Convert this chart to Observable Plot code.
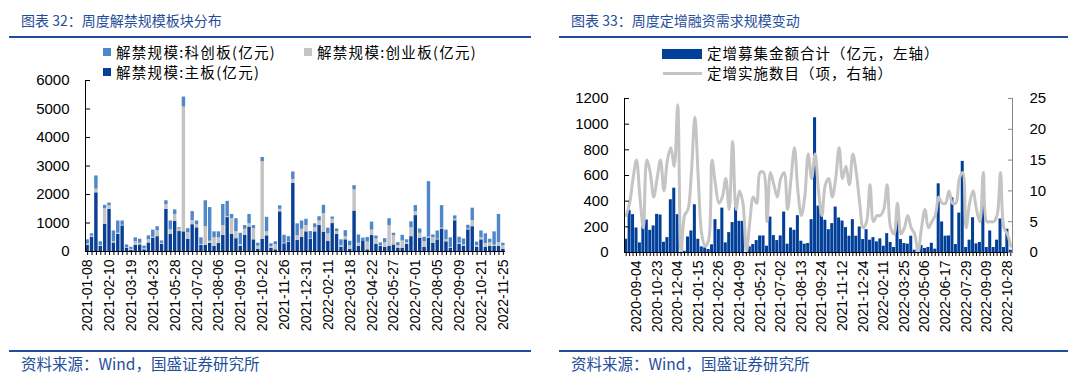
<!DOCTYPE html>
<html><head><meta charset="utf-8">
<script src="https://cdn.jsdelivr.net/npm/d3@7"></script>
<script src="https://cdn.jsdelivr.net/npm/@observablehq/plot@0.6"></script>
<style>
html,body{margin:0;padding:0;background:#fff}
body{width:1077px;height:388px;position:relative;overflow:hidden;font-family:"Liberation Sans",Arial,"Noto Sans CJK SC",sans-serif}
.a{position:absolute;white-space:nowrap}
.title{color:#1f4e9b;font-size:14px;font-family:"Noto Sans CJK SC",sans-serif;line-height:20px}
.rule{background:#1f4e9b;height:2px}
.src{color:#1f4e9b;font-size:15.5px;font-family:"Noto Sans CJK SC",sans-serif;line-height:20px}
.leg{font-size:14.5px;font-family:"Noto Sans CJK SC",sans-serif;line-height:16px;color:#000}
.sw{position:absolute}
svg{overflow:visible}
</style></head>
<body>
<div class="a title" style="left:21px;top:10px">图表 32：周度解禁规模板块分布</div>
<div class="a rule" style="left:9px;top:36px;width:522px"></div>
<div class="a title" style="left:571px;top:10px">图表 33：周度定增融资需求规模变动</div>
<div class="a rule" style="left:559px;top:36px;width:509px"></div>

<div id="left" class="a" style="left:0;top:40px"></div>
<div id="right" class="a" style="left:540px;top:40px"></div>

<div class="a rule" style="left:9px;top:350px;width:522px"></div>
<div class="a src" style="left:21px;top:353px">资料来源：Wind，国盛证券研究所</div>
<div class="a rule" style="left:559px;top:350px;width:509px"></div>
<div class="a src" style="left:571px;top:353px">资料来源：Wind，国盛证券研究所</div>

<script>
// ---------- Left chart data (亿元) ----------
const leftLabels = ["2021-01-08","2021-02-10","2021-03-19","2021-04-23","2021-05-28","2021-07-02","2021-08-06","2021-09-10","2021-10-22","2021-11-26","2021-12-31","2022-02-11","2022-03-18","2022-04-22","2022-05-27","2022-07-01","2022-08-05","2022-09-09","2022-10-21","2022-11-25"];
const leftSeries = ["解禁规模:主板(亿元)","解禁规模:创业板(亿元)","解禁规模:科创板(亿元)"];
const mainBoard = [210,500,2060,175,955,1480,300,600,900,120,35,220,230,60,300,470,520,245,1480,600,1060,700,690,430,940,830,210,210,290,175,280,570,1190,600,450,175,570,860,410,80,430,550,115,60,1390,270,330,2390,385,500,690,430,690,910,680,350,980,600,150,410,80,1420,175,350,60,560,245,175,140,175,230,115,115,245,520,1260,470,140,470,290,410,790,340,115,1080,245,175,760,870,140,410,150,175,175,175,80];
const chinext   = [50,40,130,40,545,120,50,40,20,20,40,120,60,40,110,30,210,45,160,160,240,90,4380,230,140,110,35,660,70,305,200,340,30,550,250,70,210,110,390,110,2720,150,60,185,90,20,20,140,165,280,220,10,150,160,650,270,150,100,50,110,120,740,115,0,270,190,195,35,170,735,330,95,255,65,320,130,170,210,30,200,20,30,70,25,50,45,55,30,210,70,70,130,135,45,135,120];
const starBoard = [150,80,460,125,120,100,370,430,150,90,75,140,140,90,140,250,140,80,140,310,160,40,350,140,320,130,235,910,1180,210,210,740,540,150,450,395,130,330,110,100,150,500,95,95,120,280,170,260,420,290,220,260,130,150,290,200,80,90,210,210,160,150,290,120,160,280,100,90,140,240,80,100,200,100,200,220,150,150,1950,90,290,790,340,340,120,210,210,130,440,120,240,340,120,470,990,90];
const leftYTicks = [0,1000,2000,3000,4000,5000,6000];

// ---------- Right chart data ----------
const rightLabels = ["2020-09-04","2020-10-23","2020-12-04","2021-01-15","2021-02-26","2021-04-09","2021-05-21","2021-07-02","2021-08-13","2021-09-24","2021-11-12","2021-12-24","2022-02-11","2022-03-25","2022-05-06","2022-06-17","2022-07-29","2022-09-09","2022-10-28"];
const amount = [103,328,295,191,75,204,253,173,207,297,292,80,116,411,501,295,0,10,121,168,372,103,44,36,23,60,256,178,346,75,155,233,354,243,243,0,44,62,93,129,129,49,276,132,93,129,315,65,191,173,287,88,65,70,256,1050,362,354,251,178,225,354,269,245,194,127,256,127,199,101,178,96,116,83,106,49,147,78,39,243,101,70,65,127,18,0,54,31,39,72,26,535,238,127,129,426,62,307,710,39,96,271,67,78,450,39,168,39,96,261,39,181,18];
const count  = [6,8,12,15,9,4,15,13,9,12,15,10,15,17,14,24,0,6,7,13,22,12,3,1,2,15,11,8,9,12,7,18,7,10,8,0,5,9,8,13,13,5,13,11,9,12,13,7,12,17,10,6,9,16,12,16,10,6,11,12,9,12,17,12,14,11,16,13,8,4,5,11,5,6,6,7,11,4,3,8,3,4,6,4,3,0,4,7,4,5,6,9,8,8,10,8,8,12,13,4,8,10,7,5,13,5,5,5,6,13,4,3,1];
const rightLeftTicks = [0,200,400,600,800,1000,1200];
const rightRightTicks = [0,5,10,15,20,25];
const rightSeries = ["定增募集金额合计（亿元，左轴）","定增实施数目（项，右轴）"];

const colors = {main:"#0a3f96", gem:"#c3c3c3", star:"#4f87c8", bar:"#023f98", line:"#c4c4c4"};
const font = '"Liberation Sans",Arial,"Noto Sans CJK SC",sans-serif';

// ---------- Left chart ----------
const idxL = d3.range(mainBoard.length);
const longL = [];
idxL.forEach(i => {
  longL.push({i, s: leftSeries[0], v: mainBoard[i]});
  longL.push({i, s: leftSeries[1], v: chinext[i]});
  longL.push({i, s: leftSeries[2], v: starBoard[i]});
});
const leftTickIdx = leftLabels.map((_, k) => idxL[k * 5]);

const leftPlot = Plot.plot({
  width: 530, height: 300,
  marginLeft: 85, marginRight: 25, marginTop: 40, marginBottom: 89,
  style: {fontFamily: font, fontSize: "15px", color: "#000", background: "transparent", overflow: "visible"},
  x: {type: "band", domain: idxL, paddingInner: 0.22, paddingOuter: 0.1, round: false, axis: null},
  y: {domain: [0, 6000], axis: null},
  color: {domain: leftSeries, range: [colors.main, colors.gem, colors.star]},
  marks: [
    Plot.barY(longL, {x: "i", y: "v", fill: "s", order: leftSeries}),
    Plot.axisX({ticks: idxL, tickSize: 4, tickFormat: () => "", stroke: "#000", label: null}),
    Plot.ruleY([0], {stroke: "#000", strokeWidth: 1.2}),
    Plot.frame({anchor: "left", stroke: "#000"}),
    Plot.axisY({ticks: leftYTicks, tickSize: -5, tickPadding: 21, fontSize: 15, label: null, tickFormat: d => String(d)}),
    Plot.axisX({ticks: leftTickIdx, tickFormat: i => leftLabels[leftTickIdx.indexOf(i)], tickRotate: -90, tickSize: 0, tickPadding: 8, fontSize: 14, label: null})
  ]
});
document.getElementById("left").append(leftPlot);

// ---------- Right chart ----------
const idxR = d3.range(amount.length);
const rightTickIdx = rightLabels.map((_, k) => idxR[3 + k * 6]);
const k = 1200 / 25;
const rows = idxR.map(i => ({i, amount: amount[i], count: count[i]}));

const rightPlot = Plot.plot({
  width: 537, height: 300,
  marginLeft: 84, marginRight: 65, marginTop: 58, marginBottom: 88,
  style: {fontFamily: font, fontSize: "15px", color: "#000", background: "transparent", overflow: "visible"},
  x: {type: "band", domain: idxR, paddingInner: 0.12, paddingOuter: 0.05, round: false, axis: null},
  y: {domain: [0, 1200], axis: null},
  marks: [
    Plot.barY(rows, {x: "i", y: "amount", fill: colors.bar}),
    Plot.line(rows, {x: "i", y: d => d.count * k, stroke: colors.line, strokeWidth: 3, curve: "catmull-rom"}),
    Plot.axisX({ticks: idxR, tickSize: 4, tickFormat: () => "", stroke: "#000", label: null}),
    Plot.ruleY([0], {stroke: "#000", strokeWidth: 1.2}),
    Plot.frame({anchor: "left", stroke: "#000"}),
    Plot.frame({anchor: "right", stroke: "#888"}),
    Plot.axisY({ticks: rightLeftTicks, tickSize: -5, tickPadding: 21, fontSize: 15, label: null, tickFormat: d => String(d)}),
    Plot.axisY({anchor: "right", ticks: rightRightTicks.map(v => v * k), tickSize: -5, tickPadding: 22, fontSize: 15, stroke: "#888", label: null, tickFormat: d => String(Math.round(d / k))}),
    Plot.axisX({ticks: rightTickIdx, tickFormat: i => rightLabels[rightTickIdx.indexOf(i)], tickRotate: -90, tickSize: 0, tickPadding: 8, fontSize: 14, label: null})
  ]
});
document.getElementById("right").append(rightPlot);

// ---------- Legends ----------
function add(html) { const d = document.createElement("div"); d.innerHTML = html; document.body.append(d.firstElementChild); }
const legL = "letter-spacing:1.3px";
add(`<div class="sw" style="left:103px;top:48px;width:8px;height:8px;background:${colors.star}"></div>`);
add(`<div class="a leg" style="left:116px;top:44px;${legL}">${leftSeries[2]}</div>`);
add(`<div class="sw" style="left:304px;top:48px;width:8px;height:8px;background:${colors.gem}"></div>`);
add(`<div class="a leg" style="left:317px;top:44px;${legL}">${leftSeries[1]}</div>`);
add(`<div class="sw" style="left:103px;top:68px;width:8px;height:8px;background:${colors.main}"></div>`);
add(`<div class="a leg" style="left:116px;top:64px;${legL}">${leftSeries[0]}</div>`);

add(`<div class="sw" style="left:662px;top:49px;width:40px;height:10px;background:${colors.bar}"></div>`);
add(`<div class="a leg" style="left:707px;top:45px;letter-spacing:1px">${rightSeries[0]}</div>`);
add(`<div class="sw" style="left:663px;top:72px;width:39px;height:3px;background:${colors.line}"></div>`);
add(`<div class="a leg" style="left:707px;top:65px;letter-spacing:1px">${rightSeries[1]}</div>`);
</script>
</body></html>
